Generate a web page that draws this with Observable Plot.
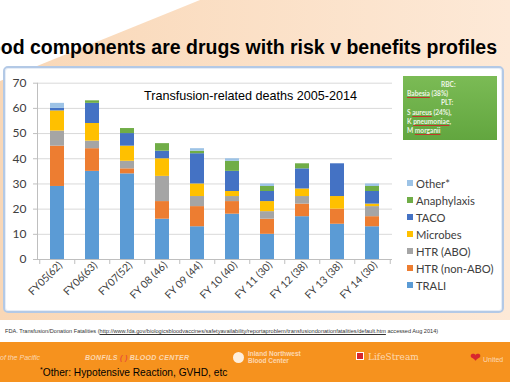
<!DOCTYPE html>
<html><head><meta charset="utf-8">
<script src="https://cdn.jsdelivr.net/npm/d3@7"></script>
<script src="https://cdn.jsdelivr.net/npm/@observablehq/plot@0.6"></script>
<style>
html,body{margin:0;padding:0;}
body{width:510px;height:382px;position:relative;overflow:hidden;background:#fff;font-family:"Liberation Sans",Arial,sans-serif;}
#peach{position:absolute;left:0;top:0;width:510px;height:320px;clip-path:polygon(200px 0,510px 0,510px 320px,0 320px,0 81px);background:linear-gradient(90deg,#f9d7b6,#fde9d7);}
#title{position:absolute;right:13px;top:37px;font-weight:bold;font-size:19.5px;line-height:20px;white-space:nowrap;color:#000;}
#frame{position:absolute;left:3px;top:66px;width:497px;height:243px;border:2px solid #b3c9e6;border-radius:5px;background:#fff;box-shadow:inset 0 0 0 1px #e6edf7;}
#chart{position:absolute;left:0;top:70px;}
#ctitle{position:absolute;left:144px;top:89px;font-size:12.6px;line-height:14px;white-space:nowrap;color:#000;background:#fff;}
#legend{position:absolute;left:407px;top:176px;font-family:Lato,sans-serif;font-size:11.2px;color:#404040;}
.li{height:17px;line-height:15px;white-space:nowrap;position:relative;padding-left:9px;}
.sw{position:absolute;left:0;top:4px;width:6px;height:6px;}
#gbox{position:absolute;left:403px;top:76px;width:94px;height:64px;background:linear-gradient(180deg,#7bbb55,#62a63f);color:#eef5e6;font-family:Lato,sans-serif;font-size:6.6px;font-weight:bold;line-height:9.2px;box-sizing:border-box;padding:4px 4px;white-space:nowrap;}
#gbox .c{padding-left:34px;}
#gbox u{text-decoration:underline #c0392b 0.6px;}
#source{position:absolute;left:5px;top:328px;font-size:5.6px;color:#333;white-space:nowrap;}
#source u{text-decoration:underline;}
#band{position:absolute;left:0;top:342px;width:510px;height:40px;background:#f6921e;}
.logo{position:absolute;color:rgba(255,240,225,0.75);white-space:nowrap;font-size:7px;}
#foot{position:absolute;left:40px;top:366px;font-size:10.2px;color:#000;white-space:nowrap;}
#foot sup{font-size:7px;}
</style></head>
<body>
<div id="peach"></div>
<div id="title">Blood components are drugs with risk v benefits profiles</div>
<div id="frame"></div>
<div id="chart"></div>
<div id="ctitle">Transfusion-related deaths 2005-2014</div>
<div id="gbox">
<div class="c">RBC:</div>
<div><u>Babesia</u> (38%)</div>
<div class="c">PLT:</div>
<div>S <u>aureus</u> (24%),</div>
<div>K <u>pneumoniae</u>,</div>
<div>M <u>morganii</u></div>
</div>
<div id="legend"></div>
<div id="source">FDA. Transfusion/Donation Fatalities (<u>http://www.fda.gov/biologicsbloodvaccines/safetyavailability/reportaproblem/transfusiondonationfatalities/default.htm</u> accessed Aug 2014)</div>
<div id="band"></div>
<div class="logo" style="left:0;top:354px;font-style:italic;">of the Pacific</div>
<div class="logo" style="left:85px;top:354px;font-style:italic;font-weight:bold;letter-spacing:0.3px;">BONFILS <span style="color:#e84c3d">( )</span> BLOOD CENTER</div>
<div class="logo" style="left:233px;top:350px;font-size:6.5px;line-height:7px;"><span style="display:inline-block;width:11px;height:11px;border-radius:50%;background:rgba(255,255,255,0.85);vertical-align:middle;margin-right:4px;"></span><span style="display:inline-block;vertical-align:middle;font-weight:bold;">Inland Northwest<br>Blood Center</span></div>
<div class="logo" style="left:356px;top:352px;font-family:'DejaVu Serif',serif;font-size:9px;"><span style="display:inline-block;width:6px;height:6px;background:#d8262e;border:1px solid #fff;margin-right:4px;"></span>LifeStream</div>
<div class="logo" style="left:470px;top:350px;font-size:7px;"><span style="color:#d8262e;font-size:13px;">&#10084;</span> United</div>
<div id="foot"><sup>*</sup>Other: Hypotensive Reaction, GVHD, etc</div>
<script>
const categories = ["FY05(62)","FY06(63)","FY07(52)","FY 08 (46)","FY 09 (44)","FY 10 (40)","FY 11 (30)","FY 12 (38)","FY 13 (38)","FY 14 (30)"];
const types = ["TRALI","HTR (non-ABO)","HTR (ABO)","Microbes","TACO","Anaphylaxis","Other*"];
const colors = ["#5b9bd5","#ed7d31","#a5a5a5","#ffc000","#4472c4","#70ad47","#9dc3e6"];
const trali       = [29,35,34,16,13,18,10,17,14,13];
const htrNonAbo   = [16, 9, 2, 7, 8, 5, 6, 5, 6, 4];
const htrAbo      = [ 6, 3, 3,10, 4, 2, 3, 3, 0, 4];
const microbes    = [ 8, 7, 6, 7, 5, 2, 4, 3, 5, 1];
const taco        = [ 1, 8, 5, 3,12, 8, 4, 8,13, 5];
const anaphylaxis = [ 0, 1, 2, 3, 1, 4, 2, 2, 0, 2];
const other       = [ 2, 0, 0, 0, 1, 1, 1, 0, 0, 1];
const yTicks = [0,10,20,30,40,50,60,70];

const series = [trali,htrNonAbo,htrAbo,microbes,taco,anaphylaxis,other];
const rows = types.flatMap((t,i)=>categories.map((c,j)=>({category:c,type:t,value:series[i][j]})));

const W = 400, ML = 37, MR = 8;
const step = (W - ML - MR) / categories.length;

const chart = Plot.plot({
  width: W, height: 240,
  marginLeft: ML, marginRight: MR, marginTop: 12.7, marginBottom: 51,
  x: {domain: categories, paddingInner: 0.6, paddingOuter: 0.3, label: null},
  y: {domain: [0,70], label: null},
  color: {domain: types, range: colors},
  style: {fontFamily: "Lato, sans-serif", fontSize: "11.5px", color: "#404040", background: "transparent", overflow: "visible"},
  marks: [
    Plot.gridY(yTicks, {stroke: "#d9d9d9", strokeOpacity: 1}),
    Plot.barY(rows, {x: "category", y: "value", fill: "type"}),
    Plot.ruleY([0], {stroke: "#bfbfbf"}),
    Plot.frame({anchor: "left", stroke: "#bfbfbf"}),
    Plot.axisY(yTicks, {tickSize: 4, tickPadding: 7, stroke: "#bfbfbf", fontSize: "12px", label: null}),
    Plot.axisX({tickSize: 0, tickRotate: -45, tickPadding: 4, dx: 3, fontSize: "10.5px", label: null}),
    Plot.axisX({tickSize: 5, tickFormat: () => "", dx: -step/2, stroke: "#bfbfbf", label: null}),
    Plot.axisX([categories[categories.length-1]], {tickSize: 5, tickFormat: () => "", dx: step/2, stroke: "#bfbfbf", label: null})
  ]
});
document.getElementById("chart").appendChild(chart);

const legend = document.getElementById("legend");
for (let i = types.length - 1; i >= 0; i--) {
  const d = document.createElement("div");
  d.className = "li";
  d.innerHTML = `<span class="sw" style="background:${colors[i]}"></span>${types[i]}`;
  legend.appendChild(d);
}
</script>
</body></html>
